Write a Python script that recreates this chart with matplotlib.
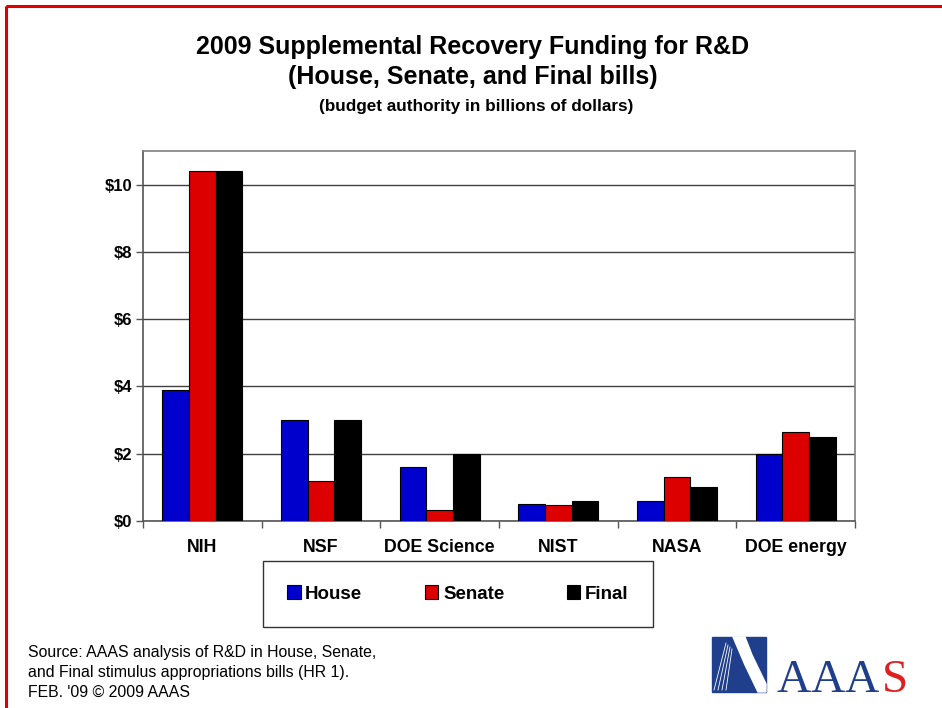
import numpy as np
import matplotlib
matplotlib.use("Agg")
import matplotlib.pyplot as plt
from matplotlib.patches import Rectangle, Polygon

plt.rcParams["font.family"] = ["Liberation Sans", "DejaVu Sans"]

categories = ["NIH", "NSF", "DOE Science", "NIST", "NASA", "DOE energy"]
house = [3.9, 3.0, 1.6, 0.5, 0.6, 2.0]
senate = [10.4, 1.2, 0.33, 0.47, 1.3, 2.65]
final = [10.4, 3.0, 2.0, 0.6, 1.0, 2.5]
series_names = ["House", "Senate", "Final"]
colors = ["#0000cc", "#dd0000", "#000000"]
y_ticks = [0, 2, 4, 6, 8, 10]

fig = plt.figure(figsize=(9.42, 7.08), dpi=100)
fig.patch.set_facecolor("white")

# -----------------------------
# bar chart
# -----------------------------
ax = fig.add_axes([143 / 942, 187 / 708, 712 / 942, 370 / 708])
x = np.arange(len(categories))
w = 0.225
bars = []
for i, (vals, name, c) in enumerate(zip([house, senate, final], series_names, colors)):
    b = ax.bar(x + (i - 1) * w, vals, w, color=c, edgecolor="black",
               linewidth=0.8, label=name, zorder=3)
    bars.append(b)

ax.set_xlim(-0.5, len(categories) - 0.5)
ax.set_ylim(0, 11)
ax.set_yticks(y_ticks)
ax.set_yticklabels(["$%d" % v for v in y_ticks], fontsize=12, fontweight="bold")
ax.yaxis.grid(True, color="#404040", linewidth=1.0, zorder=0)
ax.set_axisbelow(True)

ax.set_xticks(x)
ax.set_xticklabels(categories, fontsize=12.8, fontweight="bold")
ax.tick_params(axis="x", which="major", length=0, pad=13)
ax.set_xticks(np.arange(len(categories) + 1) - 0.5, minor=True)
ax.tick_params(axis="x", which="minor", length=5, width=1, color="#555555")
ax.tick_params(axis="y", length=5, width=1, color="#555555", pad=3)

for s in ["top", "right"]:
    ax.spines[s].set_color("#808080")
    ax.spines[s].set_linewidth(1.2)
for s in ["left", "bottom"]:
    ax.spines[s].set_color("#555555")
    ax.spines[s].set_linewidth(1.2)

# -----------------------------
# titles
# -----------------------------
fig.text(0.502, 1 - 47 / 708, "2009 Supplemental Recovery Funding for R&D",
         ha="center", va="center", fontsize=18, fontweight="bold")
fig.text(0.502, 1 - 77 / 708, "(House, Senate, and Final bills)",
         ha="center", va="center", fontsize=18, fontweight="bold")
fig.text(0.505, 1 - 106 / 708, "(budget authority in billions of dollars)",
         ha="center", va="center", fontsize=12.3, fontweight="bold")

# -----------------------------
# legend
# -----------------------------
leg = fig.legend(handles=bars, labels=series_names, loc="center",
                 bbox_to_anchor=(263 / 942, 1 - 625 / 708, 390 / 942, 62 / 708),
                 mode="expand", ncol=3, frameon=True, fancybox=False,
                 borderaxespad=0, handlelength=0.7, handleheight=0.7,
                 handletextpad=0.25, borderpad=1.3,
                 prop={"weight": "bold", "size": 13.5})
leg.get_frame().set_edgecolor("black")
leg.get_frame().set_linewidth(1.0)

# -----------------------------
# footer text
# -----------------------------
for i, line in enumerate(["Source: AAAS analysis of R&D in House, Senate,",
                          "and Final stimulus appropriations bills (HR 1).",
                          "FEB. '09 \u00a9 2009 AAAS"]):
    fig.text(28 / 942, 1 - (652 + 20 * i) / 708, line, ha="left", va="center",
             fontsize=11.4)

# -----------------------------
# overlay: border + logo
# -----------------------------
ov = fig.add_axes([0, 0, 1, 1], zorder=-1)
ov.set_xlim(0, 942)
ov.set_ylim(708, 0)
ov.axis("off")
ov.add_patch(Rectangle((6, 6), 1000, 800, fill=False, edgecolor="#e00000",
                       linewidth=2.2))

logo = fig.add_axes([0, 0, 1, 1], zorder=5)
logo.set_xlim(0, 942)
logo.set_ylim(708, 0)
logo.axis("off")
navy = "#1f3f8c"
logo.add_patch(Rectangle((712, 637), 54, 55, color=navy))
logo.add_patch(Polygon([(733, 637), (745, 637), (752, 655), (766, 684),
                        (766, 692), (758, 692), (745, 665)], color="white"))
for k in range(4):
    logo.plot([726 + 2 * k, 714 + 4 * k], [643 + 2 * k, 690], color="white",
              linewidth=0.6)
for letter, cx, col in zip("AAAS", [794, 828, 862, 895],
                           [navy, navy, navy, "#e02020"]):
    logo.text(cx, 692, letter, fontsize=34, family="Liberation Serif",
              color=col, ha="center", va="baseline")

plt.savefig("out.png", dpi=100)
